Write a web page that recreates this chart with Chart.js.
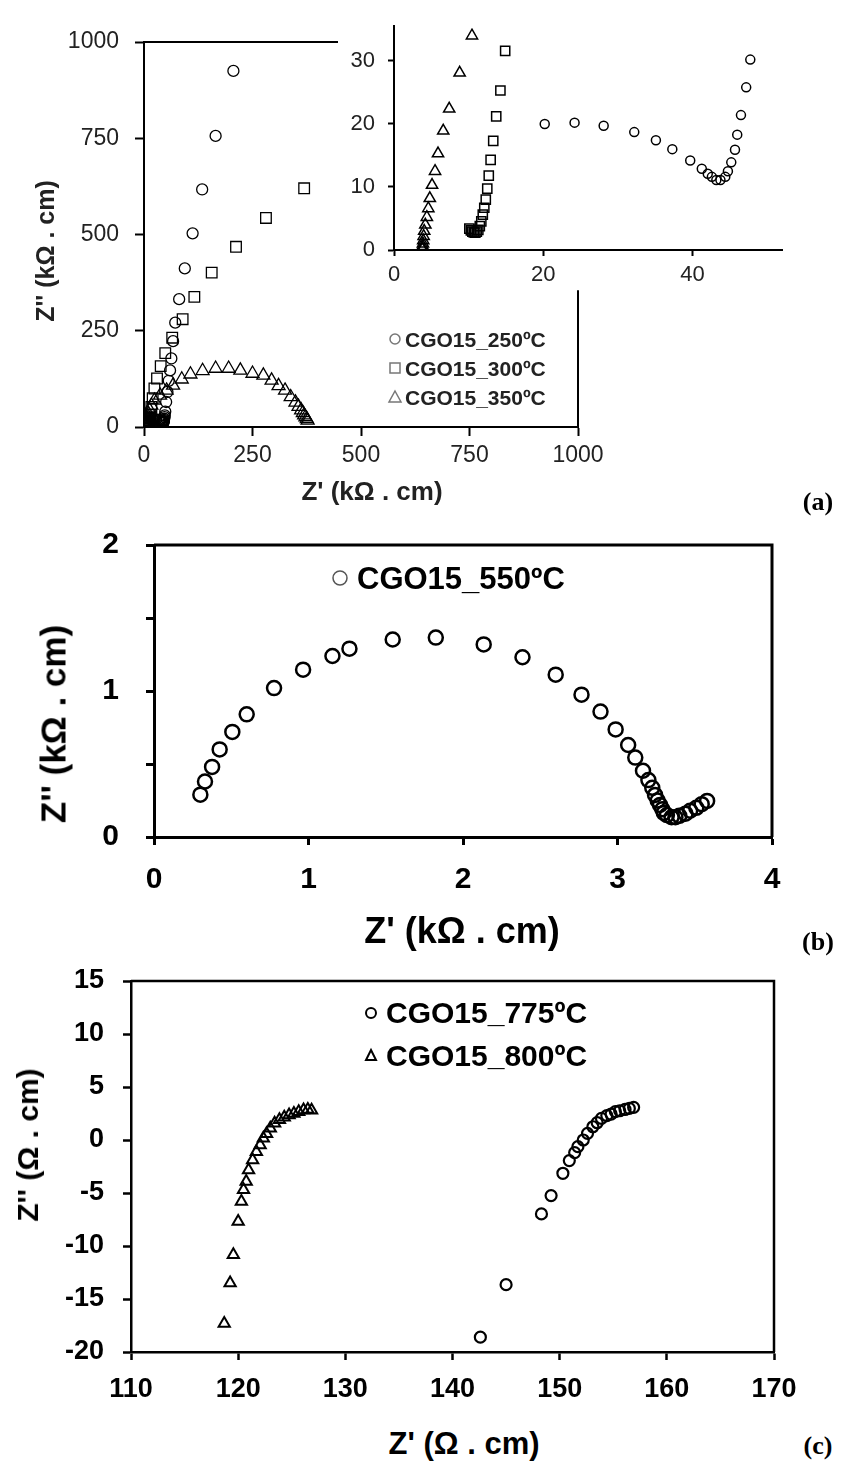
<!DOCTYPE html>
<html>
<head>
<meta charset="utf-8">
<script src="https://cdn.jsdelivr.net/npm/chart.js@4.4.1/dist/chart.umd.min.js"></script>
<style>
  html, body { margin: 0; padding: 0; background: #fff; }
  body { position: relative; width: 850px; height: 1466px; overflow: hidden;
         font-family: "Liberation Sans", Arial, sans-serif; }
  canvas { position: absolute; }
  .t { position: absolute; white-space: nowrap; font-weight: bold; color: #000; line-height: 1; }
  .ctr { transform: translate(-50%, -50%); }
  .rot { transform: translate(-50%, -50%) rotate(-90deg); }
  .leg { transform: translateY(-50%); }
  .panel { font-family: "Liberation Serif", "Times New Roman", serif; font-size: 26px; }
  svg.mk { position: absolute; overflow: visible; }
</style>
</head>
<body>

<canvas id="chartA" style="left:0;top:0" width="640" height="470"></canvas>
<canvas id="chartAi" style="left:330px;top:0" width="490" height="295"></canvas>
<canvas id="chartB" style="left:0;top:500px" width="830" height="440"></canvas>
<canvas id="chartC" style="left:0;top:940px" width="830" height="460"></canvas>

<!-- (a) text -->
<div class="t rot" style="left:45px;top:251px;font-size:25px;color:#222">Z'' (kΩ . cm)</div>
<div class="t ctr" style="left:372px;top:491px;font-size:26px;color:#222">Z' (kΩ . cm)</div>
<svg class="mk" style="left:0;top:0" width="1" height="1">
  <circle cx="395" cy="339" r="5" fill="none" stroke="#777" stroke-width="1.5"/>
  <rect x="390" y="363" width="10" height="10" fill="none" stroke="#777" stroke-width="1.5"/>
  <polygon points="395,391 401,402 389,402" fill="none" stroke="#777" stroke-width="1.5"/>
</svg>
<div class="t leg" style="left:405px;top:339px;font-size:21px;color:#222">CGO15_250ºC</div>
<div class="t leg" style="left:405px;top:368px;font-size:21px;color:#222">CGO15_300ºC</div>
<div class="t leg" style="left:405px;top:397px;font-size:21px;color:#222">CGO15_350ºC</div>
<div class="t panel ctr" style="left:818px;top:502px">(a)</div>

<!-- (b) text -->
<div class="t rot" style="left:53px;top:724px;font-size:35px">Z'' (kΩ . cm)</div>
<div class="t ctr" style="left:462px;top:931px;font-size:36px">Z' (kΩ . cm)</div>
<svg class="mk" style="left:0;top:0" width="1" height="1">
  <circle cx="340" cy="578" r="7" fill="none" stroke="#555" stroke-width="1.5"/>
</svg>
<div class="t leg" style="left:357px;top:578px;font-size:31px">CGO15_550ºC</div>
<div class="t panel ctr" style="left:818px;top:942px">(b)</div>

<!-- (c) text -->
<div class="t rot" style="left:28px;top:1145px;font-size:30px">Z'' (Ω . cm)</div>
<div class="t ctr" style="left:464px;top:1443px;font-size:31px">Z' (Ω . cm)</div>
<svg class="mk" style="left:0;top:0" width="1" height="1">
  <circle cx="371" cy="1013" r="5" fill="none" stroke="#000" stroke-width="2"/>
  <polygon points="371,1050 376,1060 366,1060" fill="none" stroke="#000" stroke-width="2"/>
</svg>
<div class="t leg" style="left:386px;top:1013px;font-size:30px">CGO15_775ºC</div>
<div class="t leg" style="left:386px;top:1056px;font-size:30px">CGO15_800ºC</div>
<div class="t panel ctr" style="left:818px;top:1446px">(c)</div>

<script>
// ---- (a) CGO15 at 250/300/350 ºC, kΩ.cm (low part = inset range, high part = main only)
const A250_X = [20.2, 24.2, 28.1, 32.2, 35.1, 37.3, 39.7, 41.25, 42.05, 42.6, 43.2, 43.75, 44.4, 44.75, 45.2, 45.7, 46.0, 46.5, 47.2, 47.75,
                49, 51, 54, 57, 60, 63, 67, 72, 81, 94, 112, 134, 165, 206];
const A250_Y = [20.0, 20.2, 19.7, 18.7, 17.4, 16.0, 14.2, 12.9, 12.1, 11.6, 11.1, 11.1, 11.6, 12.5, 13.9, 15.9, 18.3, 21.4, 25.8, 30.2,
                40, 65, 91, 120, 147, 178, 223, 271, 332, 412, 503, 617, 756, 925];

const A300_X = [10.1, 10.3, 10.5, 10.7, 10.9, 11.1, 11.3, 11.5, 11.7, 11.9, 12.1, 12.3, 12.5, 12.7, 12.95, 13.3, 13.7, 14.26, 14.9,
                17, 20, 24, 30, 38.5, 49, 65, 89, 116, 156, 212, 281, 369];
const A300_Y = [3.4, 3.1, 2.9, 2.8, 2.75, 2.9, 3.2, 3.8, 4.55, 5.6, 6.7, 8.0, 9.75, 11.8, 14.3, 17.3, 21.2, 25.3, 31.6,
                52, 75, 100, 126, 158, 192, 232, 280, 338, 401, 468, 543, 620];

const A350_X = [3.8, 3.82, 3.85, 3.88, 3.92, 3.97, 4.05, 4.2, 4.4, 4.6, 4.8, 5.1, 5.5, 5.9, 6.6, 7.4, 8.8, 10.45,
                13, 17, 24, 37, 52, 67, 87, 107, 135, 165, 195, 222, 250, 275, 294, 310, 325, 338, 349, 356, 362, 366, 369, 372, 375, 377];
const A350_Y = [0.1, 0.3, 0.6, 1.0, 1.5, 2.2, 3.0, 4.0, 5.2, 6.6, 8.2, 10.3, 12.5, 15.3, 18.9, 22.4, 28.1, 34.0,
                44, 56, 69, 82, 95, 108, 124, 137, 146, 152, 152, 147, 139, 134, 121, 107, 95, 78, 64, 53, 44, 37, 31, 26, 21, 17];

const A_TICKS = [0, 250, 500, 750, 1000];
const AI_X_TICKS = [0, 20, 40];
const AI_Y_TICKS = [0, 10, 20, 30];

// ---- (b) CGO15 at 550 ºC, kΩ.cm
const B550_X = [0.30, 0.33, 0.376, 0.425, 0.507, 0.60, 0.777, 0.965, 1.155, 1.265, 1.545, 1.824, 2.134, 2.385, 2.60, 2.767, 2.89, 2.988,
                3.069, 3.115, 3.165, 3.20, 3.225, 3.243, 3.26, 3.275, 3.29, 3.30, 3.32, 3.35, 3.375, 3.40, 3.44, 3.47, 3.51, 3.545, 3.58];
const B550_Y = [0.29, 0.38, 0.48, 0.60, 0.72, 0.84, 1.02, 1.146, 1.24, 1.29, 1.353, 1.366, 1.319, 1.231, 1.112, 0.975, 0.859, 0.737,
                0.63, 0.544, 0.454, 0.39, 0.337, 0.288, 0.25, 0.22, 0.19, 0.165, 0.15, 0.135, 0.135, 0.145, 0.16, 0.18, 0.20, 0.225, 0.247];
const B_X_TICKS = [0, 1, 2, 3, 4];
const B_Y_TICKS = [0, 0.5, 1, 1.5, 2];
const B_Y_LABELS = ["0", "", "1", "", "2"];

// ---- (c) CGO15 at 775/800 ºC, Ω.cm
const C775_X = [142.6, 145.0, 148.3, 149.2, 150.3, 150.9, 151.4, 151.7, 152.2, 152.6, 153.1, 153.5, 153.9, 154.4, 154.8, 155.2, 155.6, 156.1, 156.5, 156.9];
const C775_Y = [-18.6, -13.65, -6.97, -5.24, -3.14, -1.94, -1.19, -0.63, 0, 0.63, 1.25, 1.63, 2.04, 2.3, 2.45, 2.67, 2.76, 2.88, 2.98, 3.08];
const C800_X = [118.7, 119.25, 119.55, 120.0, 120.3, 120.5, 120.75, 120.97, 121.35, 121.7, 122.05, 122.35, 122.65, 123.0, 123.4, 123.85,
                124.3, 124.75, 125.2, 125.65, 126.1, 126.5, 126.85];
const C800_Y = [-17.3, -13.5, -10.83, -7.69, -5.8, -4.7, -3.92, -2.82, -1.88, -1.1, -0.47, 0.16, 0.6, 1.1, 1.57, 1.9,
                2.15, 2.35, 2.5, 2.67, 2.82, 2.88, 2.8];
const C_X_TICKS = [110, 120, 130, 140, 150, 160, 170];
const C_Y_TICKS = [-20, -15, -10, -5, 0, 5, 10, 15];

// where the partial frame of the main (a) plot stops (data units)
const A_TOP_FRAME_END = 447;
const A_RIGHT_FRAME_START = 355;

const SANS = '"Liberation Sans", Arial, sans-serif';

function pts(xs, ys) {
  return xs.map((x, i) => ({ x, y: ys[i] }));
}

function axis(o) {
  return {
    type: "linear",
    position: o.position,
    min: o.min,
    max: o.max,
    afterFit: (scale) => {
      if (o.position === "left") scale.width = o.size;
      else scale.height = o.size;
    },
    afterBuildTicks: (scale) => {
      scale.ticks = o.ticks.map((value) => ({ value }));
    },
    ticks: {
      padding: o.pad,
      color: o.color || "#000",
      font: { family: SANS, size: o.fontSize, weight: o.weight || "bold" },
      callback: (value, i) => (o.labels ? o.labels[i] : String(value)),
    },
    grid: {
      drawOnChartArea: false,
      drawTicks: true,
      tickLength: o.tickLength,
      tickColor: "#000",
      tickWidth: o.lw,
    },
    border: { display: true, color: "#000", width: o.lw },
  };
}

function series(xs, ys, style, radius, lw) {
  return {
    data: pts(xs, ys),
    showLine: false,
    pointStyle: style,
    pointRadius: radius,
    pointHoverRadius: radius,
    pointBorderWidth: lw,
    pointBorderColor: "#000",
    pointBackgroundColor: "rgba(0,0,0,0)",
  };
}

function framePlugin(draw) {
  return {
    id: "frame",
    beforeDatasetsDraw(chart) {
      const ctx = chart.ctx;
      ctx.save();
      ctx.strokeStyle = "#000";
      draw(chart, ctx);
      ctx.restore();
    },
  };
}

function boxFrame(lw) {
  return framePlugin((chart, ctx) => {
    const a = chart.chartArea;
    ctx.lineWidth = lw;
    ctx.beginPath();
    ctx.moveTo(a.left, a.top);
    ctx.lineTo(a.right, a.top);
    ctx.lineTo(a.right, a.bottom);
    ctx.stroke();
  });
}

function baseOptions(pad, scales) {
  return {
    responsive: false,
    animation: false,
    devicePixelRatio: 1,
    layout: { padding: pad },
    plugins: { legend: { display: false }, tooltip: { enabled: false } },
    scales,
  };
}

// (a) main
new Chart(document.getElementById("chartA"), {
  type: "scatter",
  data: {
    datasets: [
      series(A250_X, A250_Y, "circle", 5.5, 1.3),
      series(A300_X, A300_Y, "rect", 7.5, 1.3),
      series(A350_X, A350_Y, "triangle", 7.5, 1.3),
    ],
  },
  options: baseOptions({ top: 42, right: 62, left: 0, bottom: 0 }, {
    x: axis({ position: "bottom", min: 0, max: 1000, ticks: A_TICKS, size: 43, tickLength: 9, pad: 6, fontSize: 23, weight: "normal", color: "#222", lw: 2 }),
    y: axis({ position: "left", min: 0, max: 1000, ticks: A_TICKS, size: 144, tickLength: 9, pad: 16, fontSize: 23, weight: "normal", color: "#222", lw: 2 }),
  }),
  plugins: [framePlugin((chart, ctx) => {
    const a = chart.chartArea;
    const xs = chart.scales.x, ys = chart.scales.y;
    ctx.lineWidth = 2;
    ctx.beginPath();
    ctx.moveTo(a.left, a.top);
    ctx.lineTo(xs.getPixelForValue(A_TOP_FRAME_END), a.top);
    ctx.moveTo(a.right, ys.getPixelForValue(A_RIGHT_FRAME_START));
    ctx.lineTo(a.right, a.bottom);
    ctx.stroke();
  })],
});

// (a) inset
new Chart(document.getElementById("chartAi"), {
  type: "scatter",
  data: {
    datasets: [
      series(A250_X, A250_Y, "circle", 4.5, 1.5),
      series(A300_X, A300_Y, "rect", 6.5, 1.5),
      series(A350_X, A350_Y, "triangle", 6.5, 1.5),
    ],
  },
  options: baseOptions({ top: 16, right: 38, left: 0, bottom: 0 }, {
    x: axis({ position: "bottom", min: 0, max: 52, ticks: AI_X_TICKS, size: 45, tickLength: 6, pad: 6, fontSize: 22, weight: "normal", color: "#222", lw: 2 }),
    y: axis({ position: "left", min: 0, max: 35.5, ticks: AI_Y_TICKS, size: 64, tickLength: 6, pad: 13, fontSize: 22, weight: "normal", color: "#222", lw: 2 }),
  }),
});

// (b)
new Chart(document.getElementById("chartB"), {
  type: "scatter",
  data: { datasets: [series(B550_X, B550_Y, "circle", 7, 2.5)] },
  options: baseOptions({ top: 40, right: 58, left: 0, bottom: 0 }, {
    x: axis({ position: "bottom", min: 0, max: 4, ticks: B_X_TICKS, size: 103, tickLength: 8, pad: 17, fontSize: 30, lw: 3 }),
    y: axis({ position: "left", min: 0, max: 2, ticks: B_Y_TICKS, labels: B_Y_LABELS, size: 154, tickLength: 8, pad: 27, fontSize: 30, lw: 3 }),
  }),
  plugins: [boxFrame(3)],
});

// (c)
new Chart(document.getElementById("chartC"), {
  type: "scatter",
  data: {
    datasets: [
      series(C775_X, C775_Y, "circle", 5.5, 2.2),
      series(C800_X, C800_Y, "triangle", 6.5, 2),
    ],
  },
  options: baseOptions({ top: 41, right: 56, left: 0, bottom: 0 }, {
    x: axis({ position: "bottom", min: 110, max: 170, ticks: C_X_TICKS, size: 48, tickLength: 8, pad: 13, fontSize: 27, lw: 2.5 }),
    y: axis({ position: "left", min: -20, max: 15, ticks: C_Y_TICKS, size: 131, tickLength: 8, pad: 19, fontSize: 27, lw: 2.5 }),
  }),
  plugins: [boxFrame(2.5)],
});
</script>
</body>
</html>
